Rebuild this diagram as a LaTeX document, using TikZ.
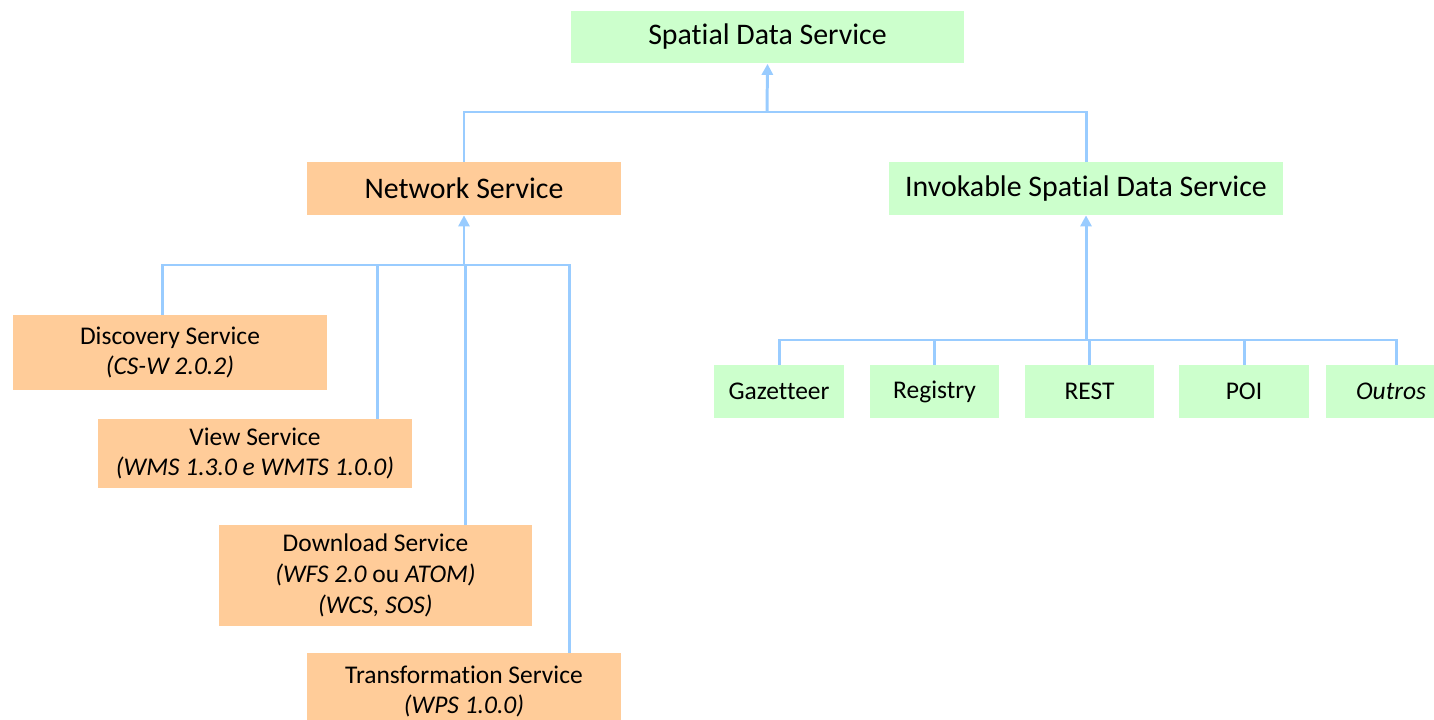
\documentclass[tikz,border=0pt]{standalone}
\usepackage{fontspec}
\setmainfont[Ligatures=NoCommon]{Carlito}
\usetikzlibrary{arrows.meta, calc}
\definecolor{boxgreen}{RGB}{204,255,204}
\definecolor{boxorange}{RGB}{255,204,153}
\definecolor{linkblue}{RGB}{153,204,255}

\begin{document}
\begin{tikzpicture}[x=0.02cm, y=-0.02cm,
  greenbox/.style={fill=boxgreen, inner sep=0pt, align=center},
  orangebox/.style={fill=boxorange, inner sep=0pt, align=center,
    minimum width=6.28cm, font=\fontsize{14.5}{17.5}\selectfont},
  bigfont/.style={font=\fontsize{17}{20}\selectfont},
  smallgreen/.style={greenbox, minimum width=2.6cm, minimum height=1.06cm,
    font=\fontsize{14.5}{17.5}\selectfont},
  link/.style={draw=linkblue, line width=1.7pt},
  up/.style={link, -{Triangle[length=0.22cm, width=0.22cm]}}]
\useasboundingbox (0,0) rectangle (1434,720);

% top level
\node[greenbox, bigfont, minimum width=7.86cm, minimum height=1.06cm] (sds) at (767.5,37) {Spatial Data Service};
\node[orangebox, bigfont, minimum height=1.06cm] (nsvc) at (464,188.5) {Network Service};
\node[greenbox, bigfont, minimum width=7.88cm, minimum height=1.06cm] (isvc) at (1086,188.5) {Invokable Spatial Data Service};

\coordinate (topbus) at (767,112);
\draw[up] (topbus) -- (sds.south);
\draw[link] (nsvc.north) -- (nsvc.north |- topbus) -- (isvc.north |- topbus) -- (isvc.north);

% network services
\node[orangebox, minimum height=1.5cm] (disc) at (170,352.5) {Discovery Service\\\textit{(CS-W 2.0.2)}};
\node[orangebox, minimum height=1.38cm] (view) at (255,453.5) {View Service\\\textit{(WMS 1.3.0 e WMTS 1.0.0)}};
\node[orangebox, minimum height=2.02cm] (dl) at (375.5,575.5) {Download Service\\\textit{(WFS 2.0} ou \textit{ATOM)}\\\textit{(WCS, SOS)}};
\node[orangebox, minimum height=1.54cm] (trans) at (464,691.5) {Transformation Service\\\textit{(WPS 1.0.0)}};

\coordinate (netbus) at (464,265);
\draw[up] (netbus) -- (nsvc.south);
\draw[link] ($(disc.north east)+(-165,0)$) |- (netbus) -| ($(trans.north east)+(-52,0)$);
\draw[link] ($(view.north east)+(-35,0)$) |- (netbus);
\draw[link] ($(dl.north east)+(-67,0)$) |- (netbus);

% invokable services
\node[smallgreen] (gaz) at (779,391.5) {Gazetteer};
\node[smallgreen] (reg) at (934.5,391.5) {Registry};
\node[smallgreen] (rest) at (1089.5,391.5) {REST};
\node[smallgreen] (poi) at (1244,391.5) {POI};
\node[smallgreen] (outros) at (1391,391.5) {\textit{Outros}};

\coordinate (isbus) at (1086,340);
\draw[up] (isbus) -- (isvc.south);
\draw[link] (gaz.north) |- (isbus) -| ($(outros.north)+(5,0)$);
\foreach \s in {reg, rest, poi}
  \draw[link] (\s.north) -- (\s.north |- isbus);
\end{tikzpicture}
\end{document}
